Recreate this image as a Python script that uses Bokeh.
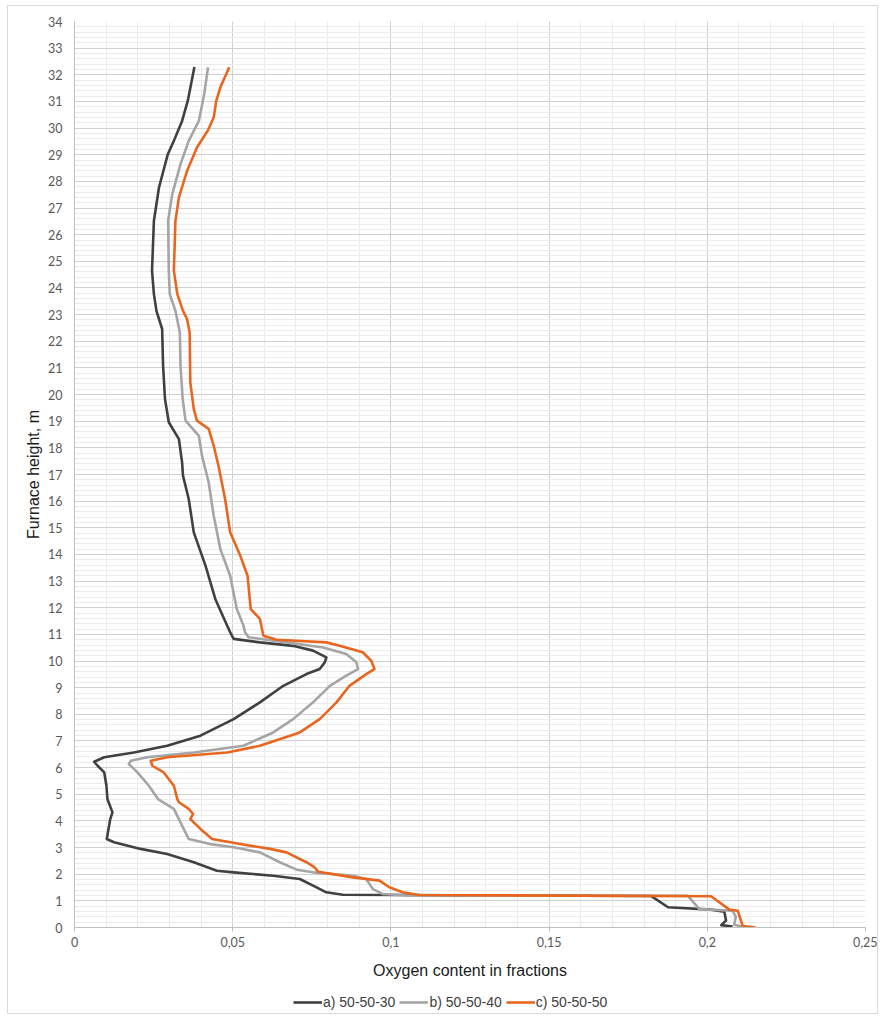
from bokeh.plotting import figure
from bokeh.models import FixedTicker, Legend, LegendItem
from bokeh.layouts import column
from bokeh.embed import file_html
from bokeh.resources import INLINE

# Series a) 50-50-30 (ordered from top of furnace to bottom)
a_x = [0.0379, 0.0358, 0.0340, 0.0314, 0.0295, 0.0267, 0.0251, 0.0245, 0.0251, 0.0259,
       0.0277, 0.0280, 0.0286, 0.0298, 0.0330, 0.0340, 0.0343, 0.0361, 0.0377, 0.0414,
       0.0445, 0.0473, 0.0492, 0.0503, 0.0586, 0.0691, 0.0754, 0.0796, 0.0791, 0.0775,
       0.0733, 0.0660, 0.0586, 0.0503, 0.0398, 0.0293, 0.0188, 0.0094, 0.0062, 0.0073,
       0.0094, 0.0101, 0.0104, 0.0120, 0.0113, 0.0102, 0.0125, 0.0209, 0.0293, 0.0377,
       0.0450, 0.0503, 0.0628, 0.0712, 0.0754, 0.0796, 0.0848, 0.1823, 0.1876, 0.2012,
       0.2054, 0.2059, 0.2044, 0.2080]
a_y = [32.29, 31.02, 30.27, 29.52, 29.02, 27.77, 26.52, 24.65, 23.77, 23.14,
       22.46, 21.08, 19.83, 18.96, 18.33, 17.46, 16.95, 16.08, 14.83, 13.58,
       12.33, 11.58, 11.08, 10.83, 10.70, 10.57, 10.39, 10.14, 9.95, 9.70,
       9.51, 9.07, 8.45, 7.82, 7.20, 6.82, 6.57, 6.39, 6.22, 6.07,
       5.82, 5.32, 4.82, 4.32, 4.07, 3.32, 3.20, 2.95, 2.76, 2.45,
       2.13, 2.07, 1.94, 1.82, 1.57, 1.32, 1.23, 1.18, 0.76, 0.67,
       0.59, 0.26, 0.09, 0.04]

# Series b) 50-50-40
b_x = [0.0422, 0.0410, 0.0393, 0.0361, 0.0335, 0.0309, 0.0296, 0.0298, 0.0301, 0.0319,
       0.0333, 0.0335, 0.0342, 0.0351, 0.0393, 0.0403, 0.0424, 0.0440, 0.0461, 0.0492,
       0.0513, 0.0534, 0.0539, 0.0550, 0.0670, 0.0786, 0.0859, 0.0891, 0.0896, 0.0859,
       0.0807, 0.0754, 0.0691, 0.0628, 0.0534, 0.0377, 0.0230, 0.0178, 0.0172, 0.0199,
       0.0235, 0.0264, 0.0314, 0.0330, 0.0345, 0.0361, 0.0429, 0.0503, 0.0586, 0.0649,
       0.0702, 0.0754, 0.0880, 0.0922, 0.0943, 0.0974, 0.1050, 0.1939, 0.1975, 0.2080,
       0.2090, 0.2085, 0.2112]
b_y = [32.28, 31.28, 30.27, 29.52, 28.65, 27.52, 26.52, 24.65, 23.77, 23.14,
       22.33, 21.08, 19.83, 19.02, 18.45, 17.70, 16.71, 15.45, 14.20, 13.20,
       11.95, 11.33, 11.08, 10.89, 10.70, 10.51, 10.26, 9.95, 9.70, 9.45,
       9.07, 8.45, 7.82, 7.32, 6.82, 6.57, 6.39, 6.26, 6.13, 5.82,
       5.32, 4.82, 4.45, 4.07, 3.70, 3.32, 3.13, 3.01, 2.82, 2.45,
       2.17, 2.07, 1.94, 1.82, 1.44, 1.26, 1.20, 1.19, 0.69, 0.63,
       0.40, 0.10, 0.03]

# Series c) 50-50-50
c_x = [0.0489, 0.0461, 0.0448, 0.0440, 0.0421, 0.0387, 0.0356, 0.0330, 0.0319, 0.0314,
       0.0325, 0.0343, 0.0356, 0.0364, 0.0366, 0.0377, 0.0387, 0.0424, 0.0440, 0.0455,
       0.0476, 0.0492, 0.0524, 0.0547, 0.0557, 0.0586, 0.0597, 0.0639, 0.0796, 0.0838,
       0.0911, 0.0938, 0.0948, 0.0922, 0.0869, 0.0828, 0.0775, 0.0712, 0.0586, 0.0482,
       0.0293, 0.0241, 0.0246, 0.0282, 0.0314, 0.0325, 0.0330, 0.0361, 0.0375, 0.0366,
       0.0398, 0.0435, 0.0524, 0.0618, 0.0670, 0.0733, 0.0759, 0.0770, 0.0880, 0.0964,
       0.0995, 0.1037, 0.1090, 0.2012, 0.2070, 0.2096, 0.2112, 0.2153]
c_y = [32.28, 31.53, 31.02, 30.40, 29.90, 29.27, 28.40, 27.40, 26.52, 24.65,
       23.77, 23.14, 22.83, 22.33, 20.46, 19.46, 19.02, 18.71, 18.08, 17.33,
       16.08, 14.83, 13.95, 13.20, 11.95, 11.58, 10.95, 10.80, 10.70, 10.57,
       10.33, 10.01, 9.70, 9.51, 9.07, 8.45, 7.82, 7.32, 6.82, 6.57,
       6.39, 6.26, 6.07, 5.82, 5.32, 4.82, 4.70, 4.45, 4.26, 4.07,
       3.70, 3.32, 3.13, 2.95, 2.82, 2.45, 2.26, 2.09, 1.88, 1.76,
       1.51, 1.32, 1.22, 1.17, 0.67, 0.63, 0.05, 0.00]

series_labels = ["a) 50-50-30", "b) 50-50-40", "c) 50-50-50"]
series_colors = ["#404040", "#a5a5a5", "#e9661f"]

x_ticks = [0, 0.05, 0.1, 0.15, 0.2, 0.25]
x_tick_labels = ["0", "0,05", "0,1", "0,15", "0,2", "0,25"]
y_ticks = list(range(0, 35))

p = figure(frame_width=791, frame_height=906, x_range=(0, 0.25), y_range=(0, 34),
           output_backend="svg", toolbar_location=None,
           min_border_left=66, min_border_right=12, min_border_top=15, min_border_bottom=57)
p.outline_line_color = None
p.background_fill_color = "white"
p.border_fill_color = "white"

p.xaxis.ticker = FixedTicker(ticks=x_ticks, minor_ticks=[i / 100 for i in range(0, 26)])
p.xaxis.major_label_overrides = {t: l for t, l in zip(x_ticks, x_tick_labels)}
p.yaxis.ticker = FixedTicker(ticks=y_ticks, minor_ticks=[i / 5 for i in range(0, 171)])

for ax in (p.xaxis, p.yaxis):
    ax.axis_line_color = "#bfbfbf"
    ax.major_tick_line_color = "#bfbfbf"
    ax.minor_tick_out = 0
    ax.minor_tick_in = 0
    ax.major_tick_in = 0
    ax.major_label_text_font = "Lato"
    ax.major_label_text_font_size = "12.5px"
    ax.major_label_text_color = "#595959"
    ax.axis_label_text_font = "Liberation Sans"
    ax.axis_label_text_font_size = "16px"
    ax.axis_label_text_font_style = "normal"
    ax.axis_label_text_color = "#1a1a1a"

p.xaxis.major_tick_out = 4
p.xaxis.major_label_standoff = 5
p.yaxis.major_tick_out = 0
p.yaxis.major_label_standoff = 12
p.xaxis.axis_label = "Oxygen content in fractions"
p.yaxis.axis_label = "Furnace height, m"
p.xaxis.axis_label_standoff = 12
p.yaxis.axis_label_standoff = 3

p.xgrid.grid_line_color = "#d0d0d0"
p.ygrid.grid_line_color = "#d0d0d0"
p.xgrid.minor_grid_line_color = "#ececec"
p.ygrid.minor_grid_line_color = "#ececec"

series_x = [a_x, b_x, c_x]
series_y = [a_y, b_y, c_y]
for xs, ys, col in zip(series_x, series_y, series_colors):
    p.line(xs, ys, line_color=col, line_width=2.6, line_join="round")

# legend strip below the chart (its renderers carry the same data, kept out of view)
lg = figure(width=869, height=29, output_backend="svg", toolbar_location=None,
            min_border=0, x_range=(1, 2), y_range=(100, 101),
            x_axis_type=None, y_axis_type=None)
lg.grid.visible = False
lg.outline_line_color = None
lg_renderers = [lg.line(xs, ys, line_color=col, line_width=2.6)
                for xs, ys, col in zip(series_x, series_y, series_colors)]
legend = Legend(items=[LegendItem(label=l, renderers=[r]) for l, r in zip(series_labels, lg_renderers)],
                orientation="horizontal", location=(219, 3),
                glyph_width=29, glyph_height=14, label_standoff=1, spacing=4,
                label_text_font="Liberation Sans", label_text_font_size="14px",
                label_text_color="#404040", border_line_color=None,
                background_fill_alpha=0, padding=2, margin=0)
lg.add_layout(legend, "center")

layout = column(p, lg, spacing=0)
layout.styles = {"border": "1px solid #d9d9d9", "margin": "5px 0 0 7px", "background": "white"}

open("out.html", "w").write(file_html(layout, INLINE))
